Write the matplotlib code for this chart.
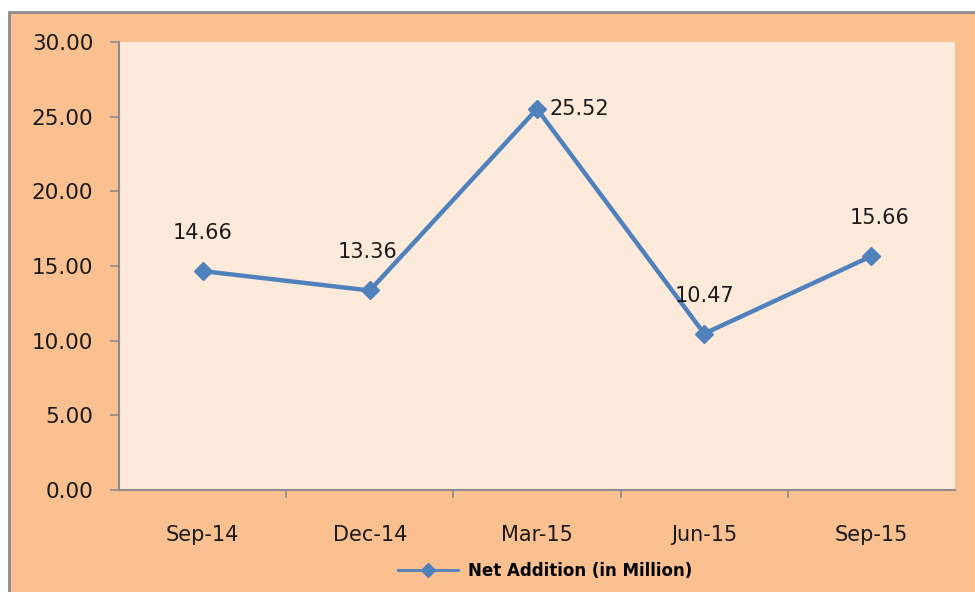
import matplotlib

matplotlib.use("Agg")

import matplotlib.pyplot as plt
from matplotlib.lines import Line2D
from matplotlib.patches import Rectangle

quarters = ["Sep-14", "Dec-14", "Mar-15", "Jun-15", "Sep-15"]
net_addition = [14.66, 13.36, 25.52, 10.47, 15.66]
series_name = "Net Addition (in Million)"
y_ticks = [0, 5, 10, 15, 20, 25, 30]

W, H = 975, 592
line_color = "#4F81BD"
text_color = "#1a1a1a"
fig = plt.figure(figsize=(W / 100, H / 100), dpi=100, facecolor="white")

# outer chart area with the gray frame on left/top
fig.patches.append(Rectangle((9 / W, -0.1), 1.1, 1.1 - 12 / H, transform=fig.transFigure,
                             facecolor="#FAC090", edgecolor="#8C8C8C", linewidth=2, zorder=-5))

ax = fig.add_axes([119 / W, 1 - 490 / H, (955 - 119) / W, (490 - 42) / H])
ax.set_facecolor("#FDEADA")

x = list(range(len(quarters)))
ax.plot(x, net_addition, color=line_color, linewidth=3.2, marker="D", markersize=9, zorder=3)

for i, v in enumerate(net_addition):
    if i == 2:
        ax.annotate(f"{v:.2f}", (i, v), xytext=(42, 0), textcoords="offset pixels",
                    ha="center", va="center", fontsize=15, color=text_color)
    else:
        dx = -2 if i == 1 else (8 if i == 4 else 0)
        ax.annotate(f"{v:.2f}", (i, v), xytext=(dx, 38), textcoords="offset pixels",
                    ha="center", va="center", fontsize=15, color=text_color)

ax.set_xlim(-0.5, len(quarters) - 0.5)
ax.set_ylim(0, 30)
ax.set_yticks(y_ticks)
ax.set_yticklabels([f"{t:.2f}" for t in y_ticks], fontsize=15.5, color=text_color)
ax.set_xticks(x)
ax.set_xticklabels(quarters, fontsize=15, color=text_color)
ax.set_xticks([i + 0.5 for i in x[:-1]], minor=True)
ax.tick_params(axis="x", which="major", length=0, pad=25)
ax.tick_params(axis="x", which="minor", length=6, color="#8C8C8C", width=1.2)
ax.tick_params(axis="y", length=6.5, color="#8C8C8C", width=1.2, pad=12)

for side in ["top", "right"]:
    ax.spines[side].set_visible(False)
for side in ["left", "bottom"]:
    ax.spines[side].set_color("#8C8C8C")
    ax.spines[side].set_linewidth(1.5)

handle = Line2D([], [], color=line_color, linewidth=2, marker="D", markersize=7)
fig.legend([handle], [series_name], loc="center", bbox_to_anchor=(545 / W, 1 - 571 / H),
           frameon=False, prop={"size": 12, "weight": "bold"}, handlelength=3.6,
           handletextpad=0.6)

fig.savefig("out.png", dpi=100)
